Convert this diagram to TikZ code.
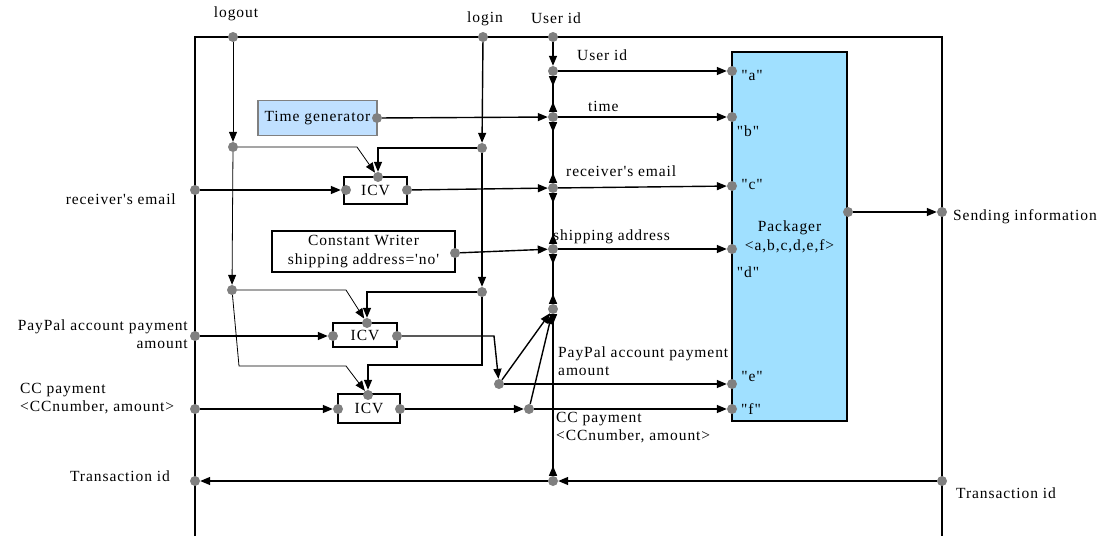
\documentclass[tikz,border=0pt]{standalone}
\usepackage{fontspec}
\newfontfamily\labfont{Liberation Serif}[LetterSpace=6]
\usetikzlibrary{arrows.meta}
\definecolor{dotgray}{HTML}{808080}
\definecolor{tgfill}{HTML}{C0E0FF}
\definecolor{packfill}{HTML}{A0E0FF}
\begin{document}
\begin{tikzpicture}[x=1pt,y=-1pt,
  dot/.style={circle,fill=dotgray,inner sep=0pt,minimum size=10pt},
  lab/.style={font={\labfont\fontsize{15.5}{18}\selectfont},inner sep=0pt},
  blk/.style={draw,line width=1.2pt,inner sep=0pt,font={\labfont\fontsize{15.5}{19}\selectfont},align=center},
  conn/.style={line width=1.4pt,-{Triangle[length=10pt,width=8pt]}},
  thinconn/.style={line width=0.8pt,-{Triangle[length=10pt,width=8pt]}},
  bus/.style={line width=1.4pt,{Triangle[reversed,length=10pt,width=8pt]}-{Triangle[reversed,length=10pt,width=8pt]}},
  frame/.style={line width=1.4pt}]
\useasboundingbox (0,0) rectangle (1102,536);
% frame
\draw[frame] (195,536) -- (195,37) -- (942,37) -- (942,536);
% boxes
\node[blk,draw=dotgray,fill=tgfill,minimum width=119pt,minimum height=35pt] (tg) at (317.5,118) {Time generator};
\node[blk,minimum width=63pt,minimum height=27pt] (icv1) at (375.5,190.5) {ICV};
\node[blk,minimum width=183pt,minimum height=41pt] (cw) at (363.5,251.5) {Constant Writer\\shipping address='no'};
\node[blk,minimum width=64pt,minimum height=24pt] (icv2) at (365,335) {ICV};
\node[blk,minimum width=62pt,minimum height=29pt] (icv3) at (369,408.5) {ICV};
\node[blk,fill=packfill,minimum width=115pt,minimum height=369pt] (pack) at (789.5,236.5) {Packager\\<a,b,c,d,e,f>};
% port dots
\node[dot] (tgo) at (377,118) {};
\node[dot] (i1l) at (346,190) {};
\node[dot] (i1r) at (407,190) {};
\node[dot] (i1t) at (378,177) {};
\node[dot] (cwo) at (455,253) {};
\node[dot] (i2l) at (333,336) {};
\node[dot] (i2r) at (397,336) {};
\node[dot] (i2t) at (367,323) {};
\node[dot] (i3l) at (338,409) {};
\node[dot] (i3r) at (400,409) {};
\node[dot] (i3t) at (368,395) {};
\node[dot] (pa) at (732,71) {};
\node[dot] (pb) at (732,117) {};
\node[dot] (pc) at (732,186) {};
\node[dot] (pd) at (732,249) {};
\node[dot] (pe) at (732,384) {};
\node[dot] (pf) at (732,409) {};
\node[dot] (po) at (848,212) {};
% frame ports
\node[dot] (logout) at (233,37) {};
\node[dot] (login) at (483,37) {};
\node[dot] (uid) at (553,37) {};
\node[dot] (recv) at (195,190) {};
\node[dot] (pp) at (195,336) {};
\node[dot] (cc) at (195,409) {};
\node[dot] (trl) at (195,481) {};
\node[dot] (snd) at (942,212) {};
\node[dot] (trr) at (942,481) {};
% junctions
\node[dot] (L1) at (233,147) {};
\node[dot] (R1) at (482,148) {};
\node[dot] (L2) at (232,290) {};
\node[dot] (R2) at (482,292) {};
\node[dot] (J1) at (553,71) {};
\node[dot] (J2) at (553,117) {};
\node[dot] (J3) at (553,188) {};
\node[dot] (J4) at (553,249) {};
\node[dot] (J5) at (553,309) {};
\node[dot] (J6) at (553,481) {};
\node[dot] (P) at (499,384) {};
\node[dot] (C) at (529,409) {};
% labels
\node[lab] at (236,14) {logout};
\node[lab] at (485,19) {login};
\node[lab] at (556,18) {User id};
\node[lab,anchor=west] at (577,55) {User id};
\node[lab,anchor=west] at (588,106) {time};
\node[lab,anchor=west] at (566,171) {receiver's email};
\node[lab,anchor=west] at (553,237) {shipping address};
\node[lab,anchor=west,align=left] at (558,361) {PayPal account payment\\ amount};
\node[lab,anchor=west,align=left] at (556,428) {CC payment\\<CCnumber, amount>};
\node[lab] at (752,75) {"a"};
\node[lab] at (748,131) {"b"};
\node[lab] at (752,184) {"c"};
\node[lab] at (748,272) {"d"};
\node[lab] at (752,376) {"e"};
\node[lab] at (751,409) {"f"};
\node[lab,anchor=east] at (176,199) {receiver's email};
\node[lab,anchor=east,align=right] at (188,334) {PayPal account payment\\amount};
\node[lab,anchor=west,align=left] at (20,399) {CC payment\\<CCnumber, amount>};
\node[lab] at (120,476) {Transaction id};
\node[lab] at (1006,493) {Transaction id};
\node[lab,anchor=west] at (953,217) {Sending information};
% bus
\draw[conn] (uid) -- (J1);
\draw[bus] (J1) -- (J2);
\draw[bus] (J2) -- (J3);
\draw[bus] (J3) -- (J4);
\draw[bus] (J4) -- (J5);
\draw[bus] (J5) -- (J6);
\draw[conn] (J1) -- (pa);
\draw[conn] (J2) -- (pb);
\draw[conn] (J3) -- (pc);
\draw[conn] (J4) -- (pd);
\draw[conn] (P) -- (pe);
\draw[conn] (C) -- (pf);
\draw[conn] (tgo) -- (J2);
\draw[conn] (i1r) -- (J3);
\draw[conn] (cwo) -- (J4);
\draw[conn] (recv) -- (i1l);
\draw[conn] (pp) -- (i2l);
\draw[conn] (cc) -- (i3l);
\draw[conn] (i3r) -- (C);
\draw[conn] (i2r) -- ++(97,0) -- (P);
\draw[conn] (P) -- (J5);
\draw[conn] (C) -- (J5);
\draw[conn] (trr) -- (J6);
\draw[conn] (J6) -- (trl);
\draw[conn] (po) -- (snd);
% logout / login
\draw[thinconn] (logout) -- (L1);
\draw[thinconn] (L1) -- (L2);
\draw[thinconn] (L1) -- ++(124,0) -- (i1t);
\draw[thinconn] (L2) -- ++(114,0) -- (i2t);
\draw[thinconn] (L2) -- ++(7,76) -- ++(107,0) -- (i3t);
\draw[conn] (login) -- (R1);
\draw[conn] (R1) -- (R2);
\draw[conn] (R1) -| (i1t);
\draw[conn] (R2) -| (i2t);
\draw[conn] (R2) -- ++(0,73) -| (i3t);
\end{tikzpicture}
\end{document}
